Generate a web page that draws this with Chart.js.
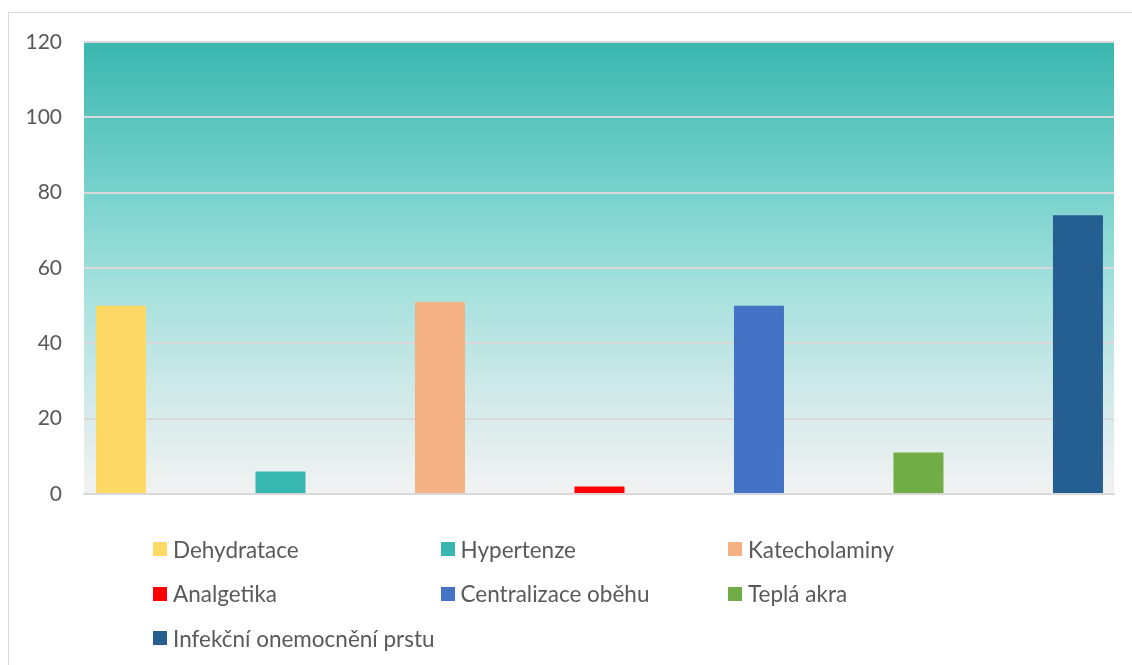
<!DOCTYPE html>
<html>
<head>
<meta charset="utf-8">
<script src="https://cdn.jsdelivr.net/npm/chart.js@4"></script>
<style>
  body { margin: 0; background: #fff; overflow: hidden; }
  #wrap { position: relative; width: 1132px; height: 665px; }
  #frame { position: absolute; left: 8px; top: 12px; width: 1140px; height: 700px; border: 1px solid #d9d9d9; }
  #legend { position: absolute; left: 153px; top: 536px; display: grid; grid-template-columns: 287.5px 287.5px 287.5px; row-gap: 18.5px;
    font-family: Lato, sans-serif; font-size: 22.5px; color: #595959; }
  #legend div { display: flex; align-items: center; height: 26px; white-space: nowrap; }
  #legend span.box { width: 14px; height: 14px; margin-right: 6px; display: inline-block; }
</style>
</head>
<body>
<div id="wrap">
  <div id="frame"></div>
  <canvas id="myChart" width="1132" height="665"></canvas>
  <div id="legend"></div>
</div>
<script>
const seriesNames = ['Dehydratace', 'Hypertenze', 'Katecholaminy', 'Analgetika', 'Centralizace oběhu', 'Teplá akra', 'Infekční onemocnění prstu'];
const seriesValues = [50, 6, 51, 2, 50, 11, 74];
const seriesColors = ['#ffd966', '#38b6b0', '#f4b183', '#ff0000', '#4472c4', '#70ad47', '#255e91'];
const yTicks = [0, 20, 40, 60, 80, 100, 120];

// plot area background gradient (teal to light grey)
const bgPlugin = {
  id: 'bgGradient',
  beforeDraw(chart) {
    const { ctx, chartArea: a } = chart;
    const g = ctx.createLinearGradient(0, a.top, 0, a.bottom);
    g.addColorStop(0, '#39b7af');
    g.addColorStop(0.33, '#78d2cc');
    g.addColorStop(0.55, '#a6e1dd');
    g.addColorStop(0.8, '#d4eaea');
    g.addColorStop(1, '#f2f2f2');
    ctx.save();
    ctx.fillStyle = g;
    ctx.fillRect(a.left, a.top, a.right - a.left, a.bottom - a.top);
    ctx.restore();
  }
};

const ctx = document.getElementById('myChart').getContext('2d');
const chart = new Chart(ctx, {
  type: 'bar',
  data: {
    datasets: seriesNames.map((name, i) => ({
      label: name,
      data: [{ x: i + 1, y: seriesValues[i] }],
      backgroundColor: seriesColors[i],
      grouped: false,
      barPercentage: 1,
      maxBarThickness: 50
    }))
  },
  options: {
    responsive: false,
    animation: false,
    layout: { padding: { left: 0, right: 18, top: 42, bottom: 171 } },
    plugins: { legend: { display: false }, tooltip: { enabled: false } },
    scales: {
      x: {
        type: 'linear',
        min: 0.768,
        max: 7.226,
        offset: false,
        grid: { display: false },
        ticks: { display: false },
        border: { display: true, color: '#d9d9d9', width: 2 },
        afterFit(s) { s.height = 0; }
      },
      y: {
        min: 0,
        max: 120,
        afterBuildTicks(s) { s.ticks = yTicks.map(v => ({ value: v })); },
        afterFit(s) { s.width = 84; },
        grid: { color: '#d9d9d9', lineWidth: 2, drawTicks: false },
        border: { display: false },
        ticks: { padding: 22, color: '#595959', font: { family: 'Lato', size: 21 } }
      }
    }
  },
  plugins: [bgPlugin]
});

const legend = document.getElementById('legend');
seriesNames.forEach((name, i) => {
  const item = document.createElement('div');
  const box = document.createElement('span');
  box.className = 'box';
  box.style.background = seriesColors[i];
  item.appendChild(box);
  item.appendChild(document.createTextNode(name));
  legend.appendChild(item);
});
</script>
</body>
</html>
